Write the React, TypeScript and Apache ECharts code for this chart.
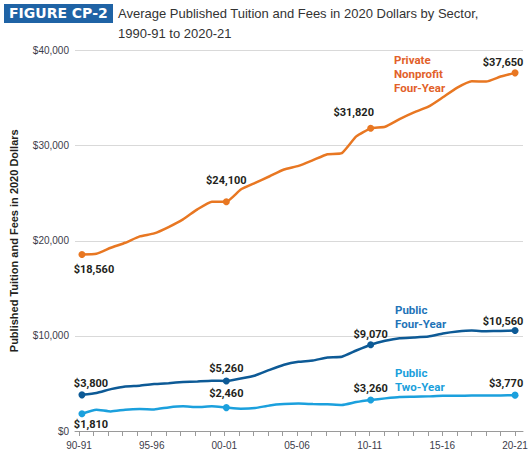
import React, { useEffect, useRef } from 'react';
import * as echarts from 'echarts';

const years = [
  '90-91', '91-92', '92-93', '93-94', '94-95', '95-96', '96-97', '97-98', '98-99', '99-00',
  '00-01', '01-02', '02-03', '03-04', '04-05', '05-06', '06-07', '07-08', '08-09', '09-10',
  '10-11', '11-12', '12-13', '13-14', '14-15', '15-16', '16-17', '17-18', '18-19', '19-20',
  '20-21',
];

const privateFourYear = [
  18560, 18630, 19260, 19790, 20460, 20770, 21440, 22250, 23300, 24110,
  24100, 25380, 26080, 26780, 27490, 27870, 28470, 29100, 29210, 30970,
  31820, 31990, 32790, 33500, 34090, 35080, 36100, 36770, 36730, 37260,
  37650,
];

const publicFourYear = [
  3800, 3990, 4400, 4690, 4760, 4930, 5030, 5140, 5210, 5280,
  5260, 5520, 5840, 6430, 6960, 7270, 7410, 7730, 7800, 8460,
  9070, 9480, 9760, 9830, 9930, 10240, 10450, 10560, 10490, 10520,
  10560,
];

const publicTwoYear = [
  1810, 2240, 2060, 2240, 2310, 2270, 2480, 2590, 2520, 2590,
  2460, 2340, 2410, 2690, 2830, 2880, 2830, 2800, 2730, 3040,
  3260, 3430, 3570, 3600, 3640, 3710, 3710, 3720, 3730, 3740,
  3770,
];

const yTicks = [0, 10000, 20000, 30000, 40000];

// where the value labels sit relative to their dot
type LabelSpot = { idx: number; dx: number; dy: number };

const privateLabels: LabelSpot[] = [
  { idx: 0, dx: 12, dy: 15 },
  { idx: 10, dx: 0, dy: -21 },
  { idx: 20, dx: -17, dy: -16 },
  { idx: 30, dx: -12, dy: -10 },
];
const publicFourLabels: LabelSpot[] = [
  { idx: 0, dx: 9, dy: -11 },
  { idx: 10, dx: 0, dy: -12 },
  { idx: 20, dx: 0, dy: -10 },
  { idx: 30, dx: -12, dy: -9 },
];
const publicTwoLabels: LabelSpot[] = [
  { idx: 0, dx: 9, dy: 11 },
  { idx: 10, dx: 0, dy: -14 },
  { idx: 20, dx: 0, dy: -11 },
  { idx: 30, dx: -9, dy: -12 },
];

const LABEL_FONT = 'Roboto, "Liberation Sans", sans-serif';
const AXIS_FONT = '"Liberation Sans", Arial, sans-serif';

// pixel layout of the plot
const X0 = 79;
const X30 = 515;
const GRID_LEFT = 72;
const GRID_RIGHT_EDGE = 523;
const unit = (X30 - X0) / 30;

const makeSeries = (name: string, values: number[], color: string, width: number, spots: LabelSpot[]) => ({
  type: 'line',
  name,
  xAxisIndex: 0,
  yAxisIndex: 0,
  smooth: 0.15,
  symbol: 'circle',
  showSymbol: true,
  showAllSymbol: true,
  lineStyle: { color, width },
  itemStyle: { color },
  z: 3,
  data: values.map((v, i) => {
    const spot = spots.find((s) => s.idx === i);
    if (!spot) return { value: [i, v], symbolSize: 0 };
    return {
      value: [i, v],
      symbolSize: 7,
      label: {
        show: true,
        position: 'inside',
        offset: [spot.dx, spot.dy],
        formatter: '$' + v.toLocaleString('en-US'),
        color: '#231f20',
        fontFamily: LABEL_FONT,
        fontWeight: 'bold',
        fontSize: 11,
      },
    };
  }),
});

const App: React.FC = () => {
  const chartRef = useRef<HTMLDivElement>(null);

  useEffect(() => {
    document.body.style.margin = '0';
    if (!chartRef.current) return;
    const chart = echarts.init(chartRef.current, null, { renderer: 'svg' });

    const option = {
      animation: false,
      backgroundColor: '#ffffff',
      grid: [
        { left: GRID_LEFT, right: 532 - GRID_RIGHT_EDGE, top: 50.5, bottom: 25 },
        { left: X0, right: 532 - X30, top: 50.5, bottom: 25 },
      ],
      xAxis: [
        {
          type: 'value',
          gridIndex: 0,
          min: -(X0 - GRID_LEFT) / unit,
          max: (GRID_RIGHT_EDGE - X0) / unit,
          axisLine: { show: true, lineStyle: { color: '#9a9a9a', width: 1 } },
          axisTick: { show: false },
          axisLabel: { show: false },
          splitLine: { show: false },
        },
        {
          type: 'category',
          gridIndex: 1,
          data: years,
          boundaryGap: false,
          axisLine: { show: false },
          axisTick: { show: true, interval: 0, length: 5, lineStyle: { color: '#9a9a9a' } },
          axisLabel: {
            interval: 4,
            margin: 9,
            color: '#3c3c4a',
            fontSize: 10,
            fontFamily: AXIS_FONT,
          },
          splitLine: { show: false },
        },
      ],
      yAxis: [
        {
          type: 'value',
          gridIndex: 0,
          min: yTicks[0],
          max: yTicks[yTicks.length - 1],
          interval: yTicks[1] - yTicks[0],
          name: 'Published Tuition and Fees in 2020 Dollars',
          nameLocation: 'middle',
          nameGap: 56,
          nameTextStyle: {
            color: '#231f20',
            fontWeight: 'bold',
            fontSize: 11,
            fontFamily: AXIS_FONT,
          },
          axisLine: { show: false },
          axisTick: { show: false },
          axisLabel: {
            margin: 6,
            color: '#3c3c4a',
            fontSize: 10,
            fontFamily: AXIS_FONT,
            formatter: (v: number) => '$' + v.toLocaleString('en-US'),
          },
          splitLine: { lineStyle: { color: '#d9d9d9', width: 1 } },
        },
        {
          type: 'value',
          gridIndex: 1,
          min: yTicks[0],
          max: yTicks[yTicks.length - 1],
          show: false,
        },
      ],
      series: [
        makeSeries('Private Nonprofit Four-Year', privateFourYear, '#e87722', 2.5, privateLabels),
        makeSeries('Public Four-Year', publicFourYear, '#0d5a96', 2.5, publicFourLabels),
        makeSeries('Public Two-Year', publicTwoYear, '#1ba0dd', 2.5, publicTwoLabels),
      ],
      graphic: [
        {
          type: 'rect',
          left: 4,
          top: 4,
          shape: { width: 109, height: 19 },
          style: { fill: '#1f63a5' },
        },
        {
          type: 'text',
          left: 9,
          top: 6,
          style: {
            text: 'FIGURE CP-2',
            fill: '#ffffff',
            font: 'bold 14px "DejaVu Sans", sans-serif',
          },
        },
        {
          type: 'text',
          left: 118,
          top: 3,
          style: {
            text: 'Average Published Tuition and Fees in 2020 Dollars by Sector,\n1990-91 to 2020-21',
            fill: '#333333',
            font: '13px "Liberation Sans", Arial, sans-serif',
            lineHeight: 20,
          },
        },
        {
          type: 'text',
          left: 394,
          top: 53,
          style: {
            text: 'Private\nNonprofit\nFour-Year',
            fill: '#e2612a',
            font: 'bold 11.5px ' + LABEL_FONT,
            lineHeight: 14,
          },
        },
        {
          type: 'text',
          left: 395,
          top: 303,
          style: {
            text: 'Public\nFour-Year',
            fill: '#1f74b8',
            font: 'bold 11.5px ' + LABEL_FONT,
            lineHeight: 14,
          },
        },
        {
          type: 'text',
          left: 395,
          top: 366,
          style: {
            text: 'Public\nTwo-Year',
            fill: '#1aa0dc',
            font: 'bold 11.5px ' + LABEL_FONT,
            lineHeight: 14,
          },
        },
      ],
    };

    chart.setOption(option as any);

    return () => {
      chart.dispose();
    };
  }, []);

  return <div ref={chartRef} style={{ width: '532px', height: '456px' }}></div>;
};

export default App;
